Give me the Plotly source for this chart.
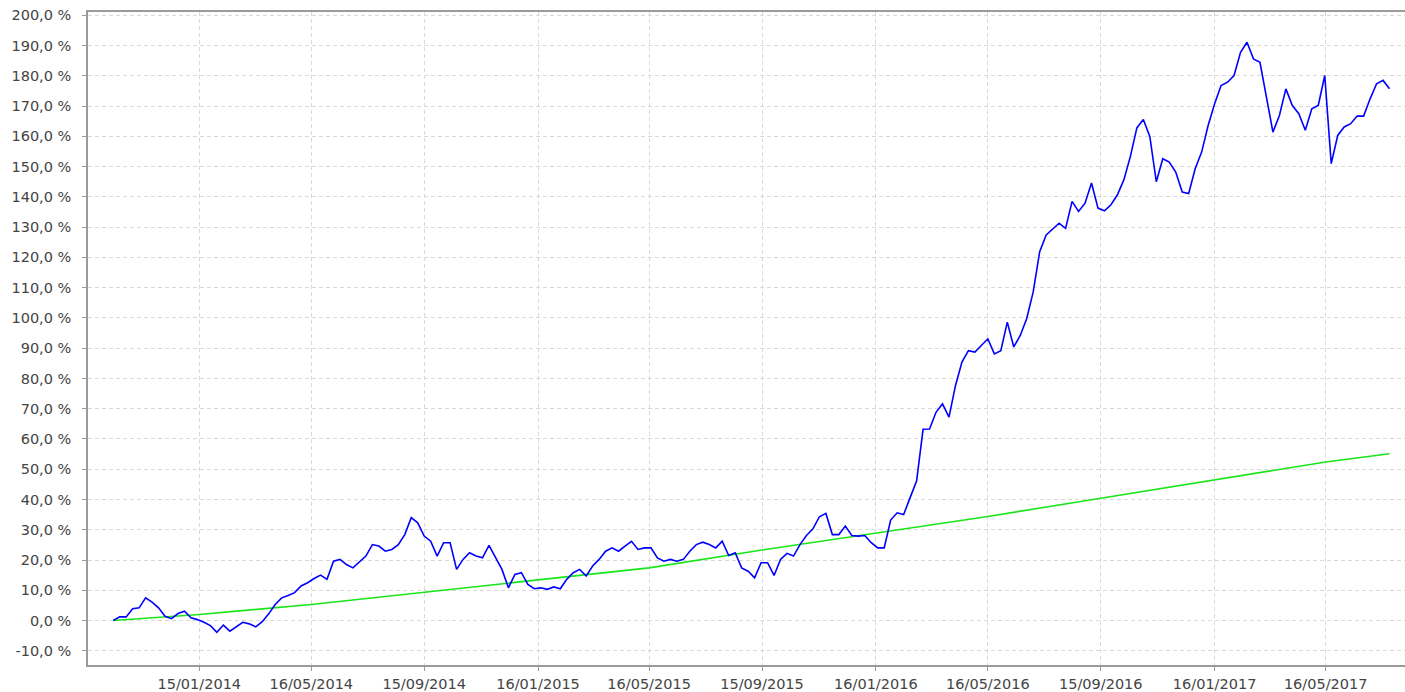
import pandas as pd
import plotly.graph_objects as go

# ---- data ----
blue_start = "2013-10-14"   # weekly observations
blue_values = [
    0.0, 1.2, 1.2, 3.9, 4.2, 7.5, 6.1, 4.2, 1.4, 0.6,
    2.3, 3.1, 0.9, 0.3, -0.6, -1.7, -3.9, -1.5, -3.5, -2.1,
    -0.6, -1.1, -2.1, -0.4, 2.2, 5.3, 7.5, 8.3, 9.2, 11.4,
    12.5, 13.9, 15.0, 13.6, 19.6, 20.2, 18.5, 17.4, 19.3, 21.3,
    25.1, 24.6, 22.9, 23.5, 25.1, 28.4, 34.0, 32.3, 27.9, 26.2,
    21.3, 25.7, 25.7, 16.9, 20.2, 22.4, 21.3, 20.7, 24.8, 20.7,
    16.9, 10.8, 15.2, 15.8, 11.9, 10.5, 10.8, 10.3, 11.1, 10.5,
    13.6, 15.8, 16.9, 14.7, 18.0, 20.2, 22.9, 24.0, 22.9, 24.6,
    26.2, 23.5, 24.0, 24.0, 20.7, 19.6, 20.2, 19.6, 20.2, 22.9,
    25.1, 25.9, 25.1, 24.0, 26.2, 21.5, 22.4, 17.4, 16.3, 14.1,
    19.1, 19.1, 14.9, 20.2, 22.2, 21.3, 25.1, 28.1, 30.3, 34.3,
    35.4, 28.4, 28.4, 31.2, 28.1, 27.9, 28.1, 25.7, 24.0, 24.0,
    33.2, 35.6, 35.0, 40.6, 46.1, 63.2, 63.3, 68.8, 71.6, 67.2,
    77.6, 85.4, 89.2, 88.7, 90.9, 93.1, 88.1, 89.2, 98.6, 90.4,
    94.2, 99.8, 108.6, 121.9, 127.4, 129.4, 131.3, 129.6, 138.5, 135.2,
    137.9, 144.6, 136.3, 135.4, 137.4, 140.7, 145.7, 153.4, 162.8, 165.6,
    160.0, 145.0, 152.6, 151.5, 148.2, 141.6, 141.1, 149.3, 154.8, 163.6,
    170.8, 176.8, 177.9, 180.1, 187.8, 191.1, 185.6, 184.5, 172.4, 161.4,
    166.9, 175.7, 170.2, 167.5, 162.0, 169.1, 170.2, 180.1, 151.0, 160.3,
    163.1, 164.2, 166.7, 166.7, 172.4, 177.4, 178.5, 175.7,
]

green_dates = [
    "2013-10-14", "2014-01-15", "2014-05-16", "2014-09-15", "2015-01-16",
    "2015-05-16", "2015-09-15", "2016-01-16", "2016-05-16", "2016-09-15",
    "2017-01-16", "2017-05-16", "2017-07-24",
]
green_values = [0.0, 2.0, 5.3, 9.3, 13.5, 17.4, 23.3, 28.8, 34.4, 40.4, 46.6, 52.4, 55.1]

x_tick_dates = [
    "2014-01-15", "2014-05-16", "2014-09-15", "2015-01-16", "2015-05-16",
    "2015-09-15", "2016-01-16", "2016-05-16", "2016-09-15", "2017-01-16",
    "2017-05-16",
]
y_tick_values = list(range(-10, 201, 10))

# ---- figure ----
blue_dates = pd.date_range(blue_start, periods=len(blue_values), freq="7D")
x_tick_text = [pd.Timestamp(d).strftime("%d/%m/%Y") for d in x_tick_dates]
y_tick_text = [f"{v:.1f}".replace(".", ",") + " %" for v in y_tick_values]

fig = go.Figure()
fig.add_trace(go.Scatter(
    x=green_dates, y=green_values, mode="lines",
    line=dict(color="#19e619", width=1.6), showlegend=False, hoverinfo="skip",
))
fig.add_trace(go.Scatter(
    x=blue_dates, y=blue_values, mode="lines",
    line=dict(color="#0000ff", width=1.6), showlegend=False,
))

axis_color = "#9a9a9a"
grid_color = "#d9d9d9"
font = dict(family="DejaVu Sans, Verdana, sans-serif", size=14.5, color="#444444")

fig.update_layout(
    width=1405, height=692,
    margin=dict(l=88, r=0, t=12, b=27, autoexpand=False),
    paper_bgcolor="white", plot_bgcolor="white",
    font=font,
    showlegend=False,
)
fig.update_xaxes(
    type="date", automargin=False,
    range=["2013-09-16 18:00", "2017-08-09 17:00"],
    tickmode="array", tickvals=x_tick_dates, ticktext=x_tick_text,
    showline=True, linecolor=axis_color, linewidth=1.5, mirror=True,
    ticks="outside", ticklen=4, tickcolor=axis_color, tickwidth=1,
    showgrid=True, gridcolor=grid_color, gridwidth=1, griddash="4px,3px",
    zeroline=False, ticklabelstandoff=1, tickfont=font,
)
fig.update_yaxes(
    automargin=False,
    range=[-14.7, 201.1],
    tickmode="array", tickvals=y_tick_values, ticktext=y_tick_text,
    showline=True, linecolor=axis_color, linewidth=1.5,
    ticks="outside", ticklen=4, tickcolor=axis_color, tickwidth=1,
    showgrid=True, gridcolor=grid_color, gridwidth=1, griddash="4px,3px",
    zeroline=False, ticklabelstandoff=8, tickfont=font,
)

fig.write_html(
    "out.html",
    config={"displayModeBar": False},
    post_script="document.body.style.margin='0';document.body.style.overflow='hidden';",
)
